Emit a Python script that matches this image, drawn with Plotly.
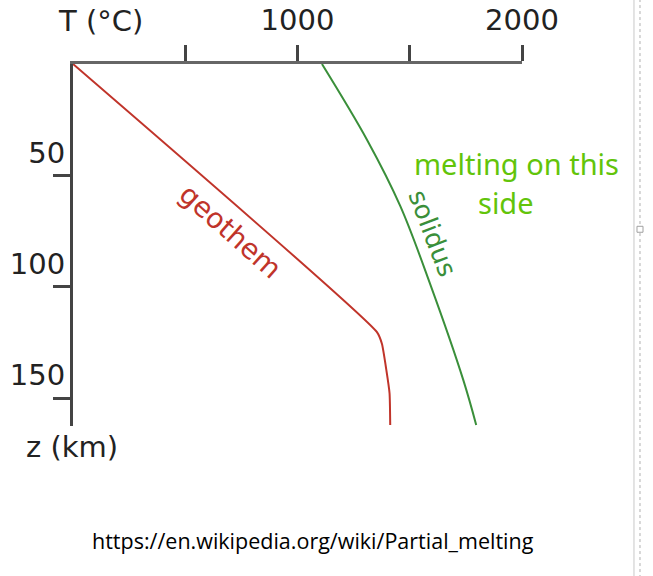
import plotly.graph_objects as go

# temperature (deg C) vs depth (km)
geotherm_T = [0, 1354, 1376, 1396, 1410, 1413]
geotherm_z = [0, 120.4, 125.6, 137.5, 147.8, 162]

solidus_T = [1109, 1310, 1458, 1591, 1739, 1796]
solidus_z = [0, 34.1, 63.8, 98.8, 142, 162]

t_ticks = [500, 1000, 1500, 2000]
t_labels = ["", "1000", "", "2000"]
z_ticks = [50, 100, 150]
z_labels = ["50", "100", "150"]

RED = "#c0342a"
GREEN = "#3a8f3a"
HAND = "#62c40a"
AXFONT = "DejaVu Sans"

fig = go.Figure()
fig.add_trace(go.Scatter(x=geotherm_T, y=geotherm_z, mode="lines",
                         line=dict(color=RED, width=2, shape="spline", smoothing=0.5),
                         showlegend=False))
fig.add_trace(go.Scatter(x=solidus_T, y=solidus_z, mode="lines",
                         line=dict(color=GREEN, width=2, shape="spline", smoothing=1.0),
                         showlegend=False))

fig.update_layout(
    width=653, height=576,
    margin=dict(l=73, r=131, t=63.5, b=150),
    paper_bgcolor="white", plot_bgcolor="white",
    xaxis=dict(range=[0, 2000], side="top", showgrid=False, zeroline=False, automargin=False,
               showline=True, linecolor="#666", linewidth=3,
               tickmode="array", tickvals=t_ticks, ticktext=t_labels,
               ticks="outside", ticklen=16, tickwidth=3, tickcolor="#444",
               ticklabelstandoff=3,
               tickfont=dict(family=AXFONT, size=29, color="#222")),
    yaxis=dict(range=[162.5, 0], showgrid=False, zeroline=False, automargin=False,
               showline=True, linecolor="#444", linewidth=3,
               tickmode="array", tickvals=z_ticks, ticktext=z_labels,
               ticks="outside", ticklen=17, tickwidth=3, tickcolor="#444",
               ticklabelstandoff=-18, ticklabelshift=23,
               tickfont=dict(family=AXFONT, size=29, color="#222")),
)

fig.add_annotation(text="T (°C)", xref="paper", yref="paper", x=-0.038, y=1.12,
                   xanchor="left", yanchor="middle", showarrow=False,
                   font=dict(family=AXFONT, size=29, color="#222"))
fig.add_annotation(text="z (km)", xref="paper", yref="paper", x=-0.109, y=-0.058,
                   xanchor="left", yanchor="middle", showarrow=False,
                   font=dict(family=AXFONT, size=29, color="#222"))

fig.add_annotation(text="geothem", x=702, y=75, textangle=41.6, showarrow=False,
                   font=dict(family=AXFONT, size=28, color=RED))
fig.add_annotation(text="solidus", x=1600, y=76, textangle=69, showarrow=False,
                   font=dict(family=AXFONT, size=26, color=GREEN))

fig.add_annotation(text="melting on this", x=1975, y=44.6, showarrow=False,
                   font=dict(family="Noto Sans", size=29, color=HAND))
fig.add_annotation(text="side", x=1930, y=62, showarrow=False,
                   font=dict(family="Noto Sans", size=29, color=HAND))

fig.add_annotation(text="https://en.wikipedia.org/wiki/Partial_melting",
                   xref="paper", yref="paper", x=0.535, y=-0.317,
                   xanchor="center", yanchor="middle", showarrow=False,
                   font=dict(family="Open Sans", size=21.5, color="black"))

# window edge from the screenshot
fig.add_shape(type="line", xref="paper", yref="paper", x0=1.2494, x1=1.2494, y0=-0.42, y1=1.18,
              line=dict(color="#c8c8c8", width=1))
fig.add_shape(type="line", xref="paper", yref="paper", x0=1.2628, x1=1.2628, y0=-0.42, y1=1.18,
              line=dict(color="#b0b0b0", width=1, dash="dot"))
fig.add_shape(type="rect", xref="paper", yref="paper", x0=1.2561, x1=1.2695, y0=0.5352, y1=0.5517,
              line=dict(color="#a0a0a0", width=1), fillcolor="white")

fig.write_html("out.html", config={"displayModeBar": False},
               post_script="document.body.style.margin='0';")
